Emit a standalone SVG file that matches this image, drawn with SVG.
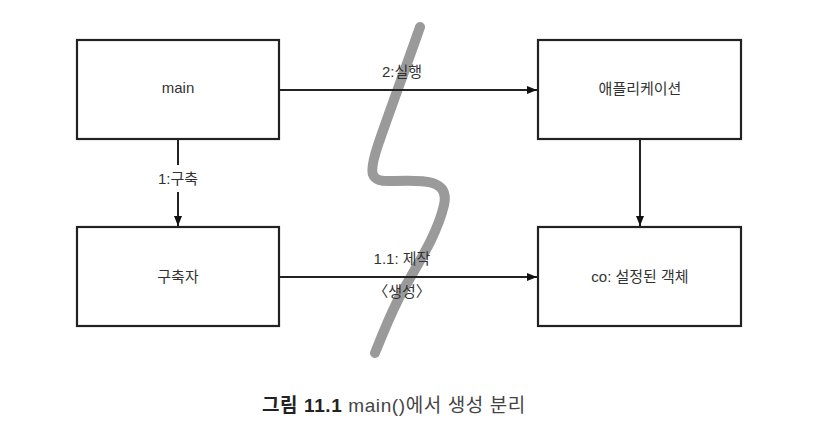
<svg xmlns="http://www.w3.org/2000/svg" width="836" height="444" viewBox="0 0 836 444">
<style>
.box{fill:none;stroke:#222;stroke-width:2.2}
.t{font-family:"Liberation Sans","Noto Sans CJK KR",sans-serif;font-size:15px;fill:#333;text-anchor:middle}
.ln{stroke:#222;stroke-width:2;fill:none}
</style>
<defs>
<marker id="ah" markerWidth="10" markerHeight="8" refX="10" refY="4" orient="auto" markerUnits="userSpaceOnUse">
<path d="M0,0 L10,4 L0,8 Z" fill="#111"/>
</marker>
</defs>
<rect width="836" height="444" fill="#fff"/>
<path d="M420,27 C405,70 390,110 378,145 C368,175 370,182 392,181 C420,180 450,178 444,205 C436,240 410,275 398,300 C388,320 381,338 375,353" fill="none" stroke="#9a9a9a" stroke-width="10" stroke-linecap="round"/>
<g id="main"><rect class="box" x="77" y="40" width="202" height="99"/><text class="t" x="178" y="93">main</text></g>
<g id="app"><rect class="box" x="538" y="40" width="203" height="99"/><text class="t" x="640" y="94">애플리케이션</text></g>
<g id="builder"><rect class="box" x="77" y="227" width="202" height="99"/><text class="t" x="178" y="282">구축자</text></g>
<g id="co"><rect class="box" x="538" y="227" width="203" height="99"/><text class="t" x="640" y="282">co: 설정된 객체</text></g>
<g id="connectors">
<line class="ln" x1="279" y1="90" x2="537" y2="90" marker-end="url(#ah)"/>
<line class="ln" x1="178" y1="139" x2="178" y2="165"/>
<line class="ln" x1="178" y1="192" x2="178" y2="226" marker-end="url(#ah)"/>
<line class="ln" x1="640" y1="139" x2="640" y2="226" marker-end="url(#ah)"/>
<line class="ln" x1="279" y1="277" x2="537" y2="277" marker-end="url(#ah)"/>
<text class="t" x="402" y="77">2:실행</text>
<text class="t" x="178" y="184">1:구축</text>
<text class="t" x="402" y="264">1.1: 제작</text>
<text class="t" x="402" y="297">〈생성〉</text>
</g>
<text x="262" y="412" font-family="'Liberation Sans','Noto Sans CJK KR',sans-serif" font-size="19" letter-spacing="0.6" fill="#222"><tspan font-weight="bold">그림 11.1</tspan> <tspan fill="#444">main()에서 생성 분리</tspan></text>
</svg>
